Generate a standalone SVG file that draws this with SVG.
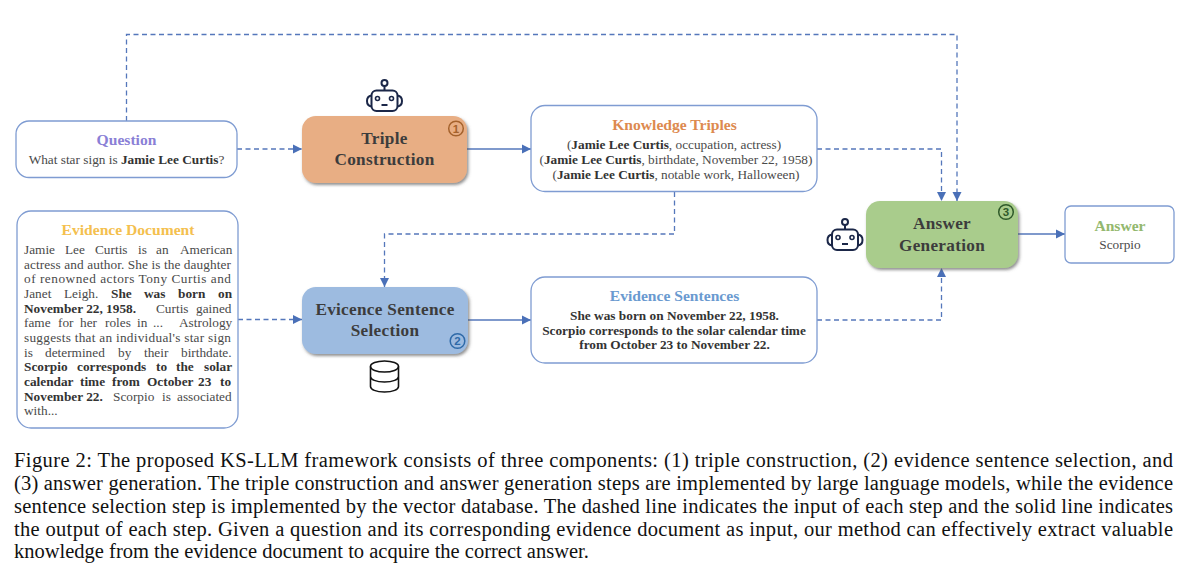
<svg xmlns="http://www.w3.org/2000/svg" width="1200" height="578" viewBox="0 0 1200 578">
<style>
text{font-family:"Liberation Serif","Times New Roman",serif;fill:#4a4a4a}
.m{text-anchor:middle}
.t{font-size:13.3px}
.h{font-size:15.600px;font-weight:bold}
.b,tspan.b{font-weight:bold;fill:#333}
.n{font-size:17.200px;font-weight:bold;fill:#3c3c3c;text-anchor:middle;letter-spacing:.3px}
.box{fill:#fff;stroke:#7f9cd2;stroke-width:1.3}
.d{fill:none;stroke:#5577bb;stroke-width:1.3;stroke-dasharray:5 3.5}
.s{fill:none;stroke:#5577bb;stroke-width:1.5}
.c{font-size:20.500px;fill:#111}
.num{font-size:11.500px;font-weight:bold;text-anchor:middle;font-family:"Liberation Sans",sans-serif}
.ring{fill:none;stroke-width:1.5}
.ic{fill:none;stroke:#1b2748;stroke-width:2}
</style>
<defs>
<marker id="a" markerUnits="userSpaceOnUse" markerWidth="9" markerHeight="10" refX="9" refY="5" orient="auto"><path d="M0 0.500L9 5L0 9.500z" fill="#4a70b8"/></marker>
<filter id="sh" x="-10%" y="-10%" width="125%" height="130%"><feDropShadow dx="1.500" dy="2" stdDeviation="1.600" flood-color="#555" flood-opacity=".65"/></filter>
<g id="robot">
<circle cx="0" cy="-12.500" r="3" class="ic"/><path d="M0-9.500V-5" class="ic"/>
<rect x="-13" y="-5" width="26" height="20.500" rx="5" class="ic"/>
<path d="M-13 0C-19 1-19 10-13 11M13 0C19 1 19 10 13 11" class="ic"/>
<circle cx="-7" cy="3" r="2" class="ic" style="stroke-width:1.600"/><circle cx="7" cy="3" r="2" class="ic" style="stroke-width:1.600"/>
<path d="M-3 9.500H3" class="ic"/>
</g>
</defs>
<rect width="1200" height="578" fill="#fff"/>

<g id="connectors">
<path class="d" d="M126.500 121V34.500H957V201" marker-end="url(#a)"/>
<path class="d" d="M237 149H302" marker-end="url(#a)"/>
<path class="s" d="M467 149H531" marker-end="url(#a)"/>
<path class="d" d="M817 149H941.500V201" marker-end="url(#a)"/>
<path class="d" d="M674.500 192V234H384.500V287" marker-end="url(#a)"/>
<path class="d" d="M238 319.500H302" marker-end="url(#a)"/>
<path class="s" d="M468 320H531" marker-end="url(#a)"/>
<path class="d" d="M817 320H941.500V268" marker-end="url(#a)"/>
<path class="s" d="M1018 234H1065" marker-end="url(#a)"/>
</g>

<g id="question">
<rect class="box" x="16" y="121" width="221" height="56.500" rx="13"/>
<text class="h m" x="126.500" y="145" style="fill:#8a7fd6">Question</text>
<text class="t m" x="126.500" y="164">What star sign is <tspan class="b">Jamie Lee Curtis</tspan>?</text>
</g>

<g id="triple-construction">
<rect x="302" y="116" width="165" height="67" rx="14" fill="#e8ae84" filter="url(#sh)"/>
<text class="n" x="384.500" y="144">Triple</text>
<text class="n" x="384.500" y="165">Construction</text>
<circle class="ring" cx="456" cy="128.500" r="7.300" stroke="#a5622c"/>
<text class="num" x="456" y="132.500" style="fill:#a5622c">1</text>
<use href="#robot" x="384.500" y="95.500"/>
</g>

<g id="knowledge-triples">
<rect class="box" x="531" y="105.500" width="286" height="86" rx="14"/>
<text class="h m" x="674.500" y="130" style="fill:#dd8a4f">Knowledge Triples</text>
<text class="t m" x="674" y="149">(<tspan class="b">Jamie Lee Curtis</tspan>, occupation, actress)</text>
<text class="t m" x="676" y="164">(<tspan class="b">Jamie Lee Curtis</tspan>, birthdate, November 22, 1958)</text>
<text class="t m" x="676" y="178.500">(<tspan class="b">Jamie Lee Curtis</tspan>, notable work, Halloween)</text>
</g>

<g id="evidence-document">
<rect class="box" x="17" y="211" width="221" height="217" rx="14"/>
<text class="h m" x="128" y="235" style="fill:#f4c04e">Evidence Document</text>
<text class="t" y="254"><tspan x="24">Jamie</tspan><tspan x="65">Lee</tspan><tspan x="95">Curtis</tspan><tspan x="138">is</tspan><tspan x="156">an</tspan><tspan x="180">American</tspan></text>
<text class="t" y="268.700" x="24" textLength="207">actress and author. She is the daughter</text>
<text class="t" y="283.300" x="24" textLength="207">of renowned actors Tony Curtis and</text>
<text class="t" y="298"><tspan x="24">Janet</tspan><tspan x="64">Leigh.</tspan><tspan class="b" x="111">She</tspan><tspan class="b" x="144">was</tspan><tspan class="b" x="178">born</tspan><tspan class="b" x="218">on</tspan></text>
<text class="t" y="312.700"><tspan class="b" x="24">November 22, 1958.</tspan><tspan x="156">Curtis</tspan><tspan x="196">gained</tspan></text>
<text class="t" y="327.300"><tspan x="24">fame</tspan><tspan x="58">for</tspan><tspan x="80">her</tspan><tspan x="105">roles</tspan><tspan x="137">in</tspan><tspan x="153">...</tspan><tspan x="179">Astrology</tspan></text>
<text class="t" y="342" x="24" textLength="207">suggests that an individual's star sign</text>
<text class="t" y="356.700"><tspan x="24">is</tspan><tspan x="45">determined</tspan><tspan x="118">by</tspan><tspan x="144">their</tspan><tspan x="181">birthdate.</tspan></text>
<text class="t b" y="371.300"><tspan x="24">Scorpio</tspan><tspan x="77">corresponds</tspan><tspan x="156">to</tspan><tspan x="176">the</tspan><tspan x="204">solar</tspan></text>
<text class="t b" y="386"><tspan x="24">calendar</tspan><tspan x="80">time</tspan><tspan x="112">from</tspan><tspan x="147">October</tspan><tspan x="198">23</tspan><tspan x="220">to</tspan></text>
<text class="t" y="400.700"><tspan class="b" x="24">November 22.</tspan><tspan x="113">Scorpio</tspan><tspan x="162">is</tspan><tspan x="177">associated</tspan></text>
<text class="t" y="415.300" x="24">with...</text>
</g>

<g id="evidence-sentence-selection">
<rect x="302" y="287" width="166" height="67" rx="14" fill="#9dbbe0" filter="url(#sh)"/>
<text class="n" x="385" y="315">Evicence Sentence</text>
<text class="n" x="385" y="336">Selection</text>
<circle class="ring" cx="457.500" cy="341" r="7.300" stroke="#2f6aa8"/>
<text class="num" x="457.500" y="345" style="fill:#2f6aa8">2</text>
<g class="ic" style="stroke:#111;stroke-width:1.600">
<ellipse cx="384.500" cy="366.500" rx="14" ry="5.500"/>
<path d="M370.500 366.500V386.500C370.500 389.500 376 392 384.500 392S398.500 389.500 398.500 386.500V366.500M370.500 376.500C370.500 379.500 376 382 384.500 382S398.500 379.500 398.500 376.500"/>
</g>
</g>

<g id="evidence-sentences">
<rect class="box" x="531" y="277" width="286" height="86" rx="14"/>
<text class="h m" x="674.500" y="301" style="fill:#6a9ad0">Evidence Sentences</text>
<text class="t m b" x="674.500" y="320">She was born on November 22, 1958.</text>
<text class="t m b" x="674" y="335">Scorpio corresponds to the solar calendar time</text>
<text class="t m b" x="674.500" y="349">from October 23 to November 22.</text>
</g>

<g id="answer-generation">
<rect x="866" y="201" width="152" height="67" rx="14" fill="#a9cc8c" filter="url(#sh)"/>
<text class="n" x="942" y="229">Answer</text>
<text class="n" x="942" y="251">Generation</text>
<circle class="ring" cx="1006" cy="212" r="7.300" stroke="#2f5a2a"/>
<text class="num" x="1006" y="216" style="fill:#2f5a2a">3</text>
<use href="#robot" x="845" y="234.500"/>
</g>

<g id="answer">
<rect class="box" x="1065" y="206" width="109" height="57" rx="6"/>
<text class="h m" x="1120" y="231" style="fill:#93b86e">Answer</text>
<text class="t m" x="1120" y="249">Scorpio</text>
</g>

<g id="caption">
<text class="c" x="14" y="467" textLength="1159">Figure 2: The proposed KS-LLM framework consists of three components: (1) triple construction, (2) evidence sentence selection, and</text>
<text class="c" x="14" y="490" textLength="1159">(3) answer generation. The triple construction and answer generation steps are implemented by large language models, while the evidence</text>
<text class="c" x="14" y="513" textLength="1159">sentence selection step is implemented by the vector database. The dashed line indicates the input of each step and the solid line indicates</text>
<text class="c" x="14" y="536" textLength="1159">the output of each step. Given a question and its corresponding evidence document as input, our method can effectively extract valuable</text>
<text class="c" x="14" y="558">knowledge from the evidence document to acquire the correct answer.</text>
</g>
</svg>
